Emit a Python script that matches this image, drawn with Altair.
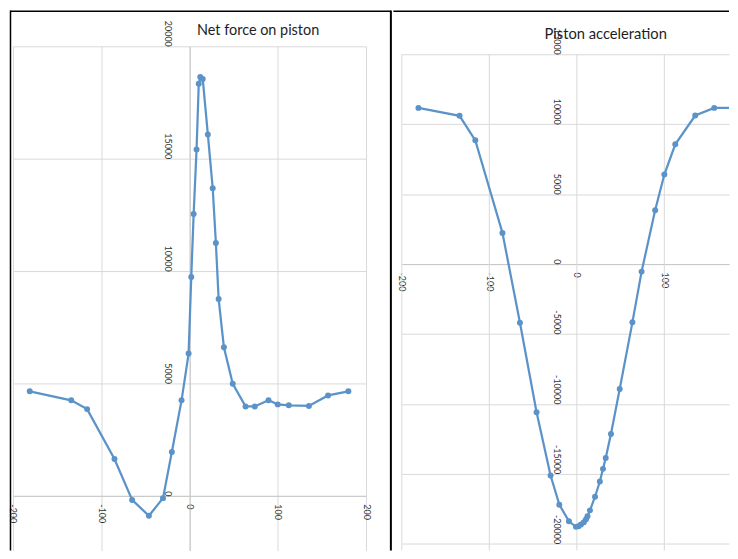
import altair as alt
import pandas as pd

# shared crank positions (x)
x_vals = [-181, -134, -116, -85, -65, -46, -30, -20, -9, -1,
          2, 4.7, 8, 10.5, 12.2, 15, 20.8, 26.3, 29.9, 33,
          39, 49, 63.5, 74, 89.5, 100, 112.5, 135.3, 157, 180]
# Net force on piston
force = [4650, 4250, 3860, 1640, -180, -885, -100, 1950, 4250, 6330,
         9735, 12535, 15410, 18330, 18630, 18550, 16080, 13690, 11250, 8760,
         6610, 4985, 3980, 3980, 4250, 4070, 4030, 4000, 4470, 4650]
# Piston acceleration
accel = [11166, 10597, 8843, 2226, -4196, -10597, -15128, -17212, -18400, -18800,
         -18752, -18634, -18470, -18250, -18045, -17620, -16643, -15553, -14651, -13869,
         -12162, -8938, -4172, -545, 3840, 6401, 8557, 10620, 11166, 11166]

left_x_ticks = [-200, -100, 0, 100, 200]
right_x_ticks = [-200, -100, 0, 100]
force_ticks = [0, 5000, 10000, 15000, 20000]
accel_ticks = [-20000, -15000, -10000, -5000, 0, 5000, 10000, 15000]

df = pd.DataFrame({"x": x_vals, "force": force, "accel": accel})
one = pd.DataFrame({"k": [0]})
rgrid = pd.DataFrame({"x": right_x_ticks})

BLUE = "#5B93C9"
FONT = "Lato"
LABEL = "#333333"
GRID = "#d9d9d9"


def axis_common(**kw):
    return alt.Axis(ticks=False, title=None, labelFont=FONT, labelFontSize=9,
                    labelColor=LABEL, labelAngle=90, labelFlush=False,
                    labelOverlap=False, labelExpr="datum.value + ''",
                    gridColor=GRID, gridWidth=1, domainColor="#c8c8c8",
                    domainWidth=1, **kw)


# ---------- left panel ----------
W1, H1 = 355, 507
lx = alt.X("x:Q", scale=alt.Scale(domain=[-200, 200], nice=False, zero=False),
           axis=axis_common(values=left_x_ticks, offset=-54.9, labelAlign="left",
                            labelBaseline="middle", labelPadding=8))
ly = alt.Y("force:Q", scale=alt.Scale(domain=[-2430, 20000], nice=False, zero=False),
           axis=axis_common(values=force_ticks, offset=-177.5, labelAlign="right",
                            labelBaseline="top", labelPadding=18))
lbase = alt.Chart(df).encode(x=lx, y=ly)
lline = lbase.mark_line(color=BLUE, strokeWidth=2.25)
lpts = lbase.mark_point(filled=True, color=BLUE, size=36, opacity=1)
ltop = alt.Chart(one).mark_rule(color="black", strokeWidth=1.5).encode(
    x=alt.value(-2.5), x2=alt.value(380), y=alt.value(-35.25))
lleft = alt.Chart(one).mark_rule(color="black", strokeWidth=1.5).encode(
    x=alt.value(-2.5), y=alt.value(-36), y2=alt.value(H1))
ldiv = alt.Chart(one).mark_rule(color="black", strokeWidth=2).encode(
    x=alt.value(380), y=alt.value(-36), y2=alt.value(H1))
left = alt.layer(lline, lpts, ltop, lleft, ldiv).properties(
    width=W1, height=H1,
    title=alt.TitleParams("Net force on piston", font=FONT, fontSize=14.5,
                          fontWeight="normal", color="#1e1e1e", anchor="middle",
                          frame="group", dx=69, offset=-29.6))

# ---------- right panel ----------
W2, H2 = 329, 507
rx = alt.X("x:Q", scale=alt.Scale(domain=[-200, 173.9], nice=False, zero=False),
           axis=axis_common(values=right_x_ticks, offset=-288, labelAlign="left",
                            labelBaseline="middle", labelPadding=8, grid=False))
ry = alt.Y("accel:Q", scale=alt.Scale(domain=[-20490, 15570], nice=False, zero=False),
           axis=axis_common(values=accel_ticks, offset=-176, labelAlign="right",
                            labelBaseline="top", labelPadding=16, domain=False))
rvgrid = alt.Chart(rgrid).mark_rule(color=GRID, strokeWidth=1).encode(
    x=rx, y=alt.value(8), y2=alt.value(H2))
rbase = alt.Chart(df).encode(x=rx, y=ry)
rline = rbase.mark_line(color=BLUE, strokeWidth=2.25, clip=True)
rpts = rbase.mark_point(filled=True, color=BLUE, size=36, opacity=1, clip=True)
rtop = alt.Chart(one).mark_rule(color="black", strokeWidth=1.5).encode(
    x=alt.value(-8.5), x2=alt.value(W2), y=alt.value(-35.25))
right = alt.layer(rvgrid, rline, rpts, rtop).properties(
    width=W2, height=H2,
    title=alt.TitleParams("Piston acceleration", font=FONT, fontSize=14.8,
                          fontWeight="normal", color="#1e1e1e", anchor="middle",
                          frame="group", dx=40.5, offset=-31.6))

chart = alt.hconcat(left, right, spacing=0).resolve_scale(
    x="independent", y="independent"
).properties(padding=0).configure_view(stroke=None)

chart.save("out.html", embed_options={"renderer": "svg", "actions": False})
